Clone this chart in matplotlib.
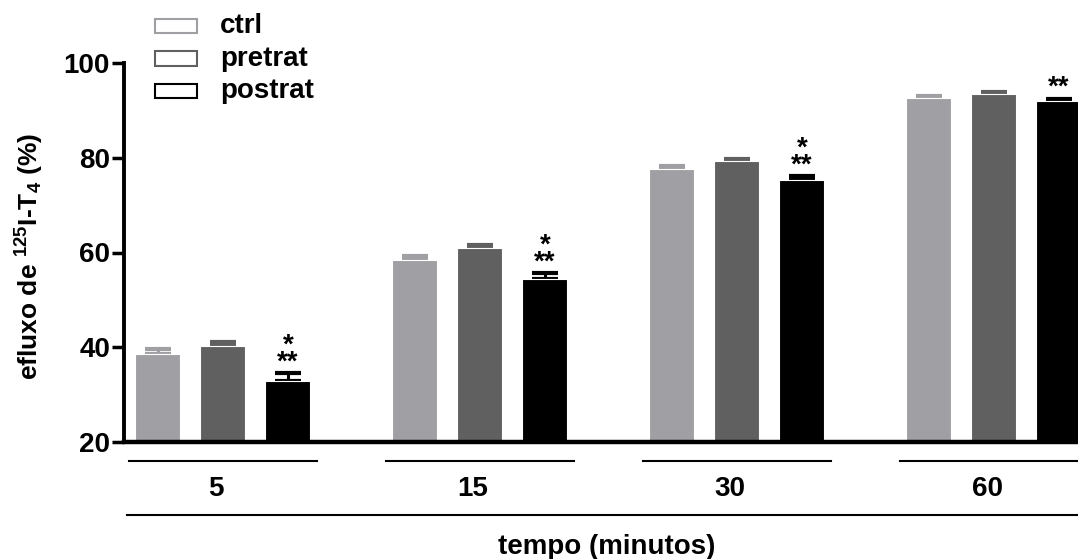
import numpy as np
import matplotlib
matplotlib.use('Agg')
import matplotlib.pyplot as plt
from matplotlib.transforms import blended_transform_factory
from matplotlib.patches import Rectangle

plt.rcParams['font.family'] = ['Liberation Sans', 'DejaVu Sans']
plt.rcParams['font.weight'] = 'bold'
plt.rcParams['mathtext.fontset'] = 'custom'
plt.rcParams['mathtext.rm'] = 'Liberation Sans:bold'
plt.rcParams['mathtext.bf'] = 'Liberation Sans:bold'
plt.rcParams['mathtext.default'] = 'bf'

# time points (minutes) and groups
tempos = ['5', '15', '30', '60']
grupos = ['ctrl', 'pretrat', 'postrat']
cores = ['#a0a0a4', '#606060', '#000000']

# mean efflux (%) and SEM (upper bar only)
ctrl = [38.6, 58.5, 77.6, 92.6]
ctrl_sem = [1.0, 0.7, 0.6, 0.4]
pretrat = [40.3, 60.9, 79.3, 93.4]
pretrat_sem = [0.8, 0.6, 0.4, 0.4]
postrat = [32.9, 54.4, 75.3, 91.9]
postrat_sem = [1.6, 1.2, 0.8, 0.5]
signif = ['*\n**', '*\n**', '*\n**', '**']

medias = [ctrl, pretrat, postrat]
erros = [ctrl_sem, pretrat_sem, postrat_sem]

FS = 20
fig = plt.figure(figsize=(10.78, 5.59), dpi=100)
W, H = 1078, 559
ax = fig.add_axes([124 / W, (H - 442) / H, (1078 - 124) / W, (442 - 63) / H])

x = np.arange(len(tempos))
desloc = 0.253
larg = 0.175
for i, (m, e, c) in enumerate(zip(medias, erros, cores)):
    pos = x + (i - 1) * desloc
    ax.bar(pos, np.array(m) - 20, bottom=20, width=larg, color=c,
           edgecolor='white', linewidth=0.8, zorder=2)
    ax.errorbar(pos, m, yerr=[np.zeros(len(e)), e], fmt='none', ecolor=c,
                elinewidth=2.2, capsize=9.4, capthick=3, zorder=1)

# significance marks over postrat bars
for xi, m, e, s in zip(x + desloc, postrat, postrat_sem, signif):
    ax.annotate(s, xy=(xi, m + e), xytext=(0, -1.5), textcoords='offset points',
                ha='center', va='bottom', fontsize=FS, linespacing=0.55)

ax.set_xlim(-0.385, 3.327)
ax.set_ylim(20, 100)
ax.set_yticks([20, 40, 60, 80, 100])
ax.tick_params(axis='y', length=9, width=2.5, labelsize=FS, pad=1)
ax.set_xticks([])
for sp in ['top', 'right']:
    ax.spines[sp].set_visible(False)
ax.spines['left'].set_linewidth(2.8)
ax.spines['bottom'].set_linewidth(3.2)
for lab in ax.get_yticklabels():
    lab.set_fontweight('bold')

fig.text(30 / W, (H - 256) / H, r'efluxo de $^{125}$I-T$_{4}$ (%)',
         rotation=90, ha='center', va='center', fontsize=19, fontweight='bold')

# group lines and labels below the axis
tr = blended_transform_factory(ax.transData, fig.transFigure)
for xi, t in zip(x, tempos):
    ax.plot([xi - 0.366, xi + 0.366], [(H - 461) / H] * 2, color='black',
            lw=1.5, transform=tr, clip_on=False)
    ax.text(xi - 0.027, (H - 489) / H, t, transform=tr, ha='center',
            va='center', fontsize=FS)
ax.plot([127 / W, 1.0], [(H - 515) / H] * 2, color='black', lw=1.5,
        transform=fig.transFigure, clip_on=False)
fig.text(607 / W, (H - 547) / H, 'tempo (minutos)', ha='center', va='center',
         fontsize=FS)

# legend with outlined boxes
for k, (g, c) in enumerate(zip(grupos, cores)):
    yk = 26 + 32.5 * k
    fig.patches.append(Rectangle((155 / W, (H - yk - 7) / H), 42 / W, 14 / H,
                                 facecolor='white', edgecolor=c, lw=1.5,
                                 transform=fig.transFigure))
    fig.text(220 / W, (H - yk) / H, g, ha='left', va='center', fontsize=FS)

fig.savefig('out.png', dpi=100)
